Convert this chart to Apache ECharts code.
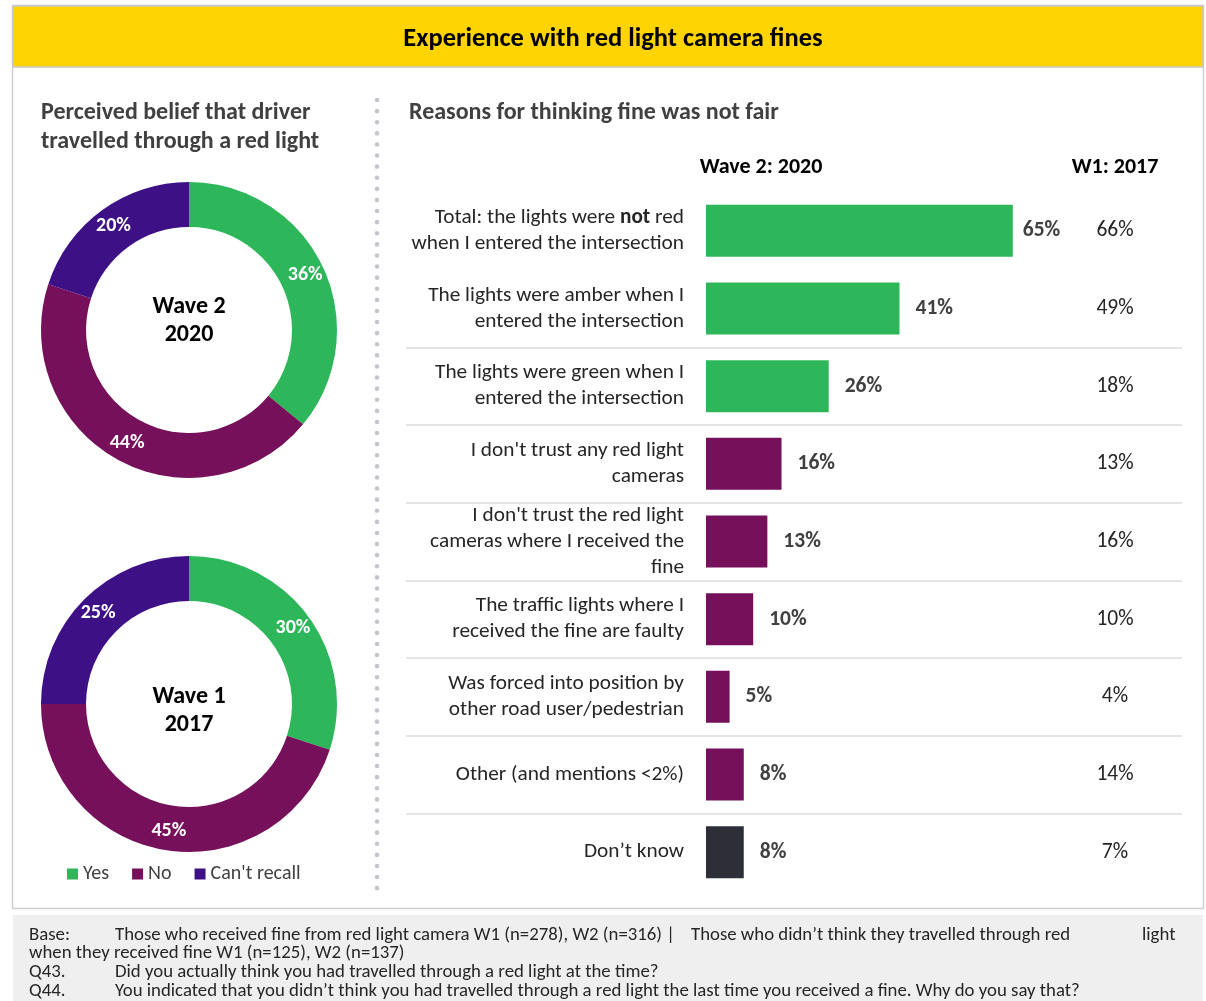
<!DOCTYPE html>
<html>
<head>
<meta charset="utf-8">
<script src="https://cdn.jsdelivr.net/npm/echarts@6/dist/echarts.min.js"></script>
<style>
  html, body { margin: 0; padding: 0; background: #ffffff; }
  #chart { width: 1206px; height: 1001px; }
</style>
</head>
<body>
<div id="chart"></div>
<script>
// Typeface stack: Calibri-metric first, then narrow fallbacks
const FONT = "Carlito, 'Liberation Sans Narrow', 'Open Sans', sans-serif";

// Donuts: did the driver think they went through a red light?
const responses = ['Yes', 'No', "Can't recall"];
const wave2Shares = [36, 44, 20];
const wave1Shares = [30, 45, 25];

// Bars: reasons for thinking the fine was not fair
const reasons = [
  'Total: the lights were **not** red\nwhen I entered the intersection',
  'The lights were amber when I\nentered the intersection',
  'The lights were green when I\nentered the intersection',
  "I don't trust any red light\ncameras",
  "I don't trust the red light\ncameras where I received the\nfine",
  'The traffic lights where I\nreceived the fine are faulty',
  'Was forced into position by\nother road user/pedestrian',
  'Other (and mentions <2%)',
  'Don\u2019t know'
];
const wave2Values = [65, 41, 26, 16, 13, 10, 5, 8, 8];
const wave1Values = [66, 49, 18, 13, 16, 10, 4, 14, 7];
const reasonGroups = ['lights', 'lights', 'lights', 'distrust', 'distrust', 'distrust', 'distrust', 'distrust', 'unsure'];

// Footnote: the first line is laid out in justified pieces, then [label, text] per line
const footerBase = ['Base:', 'Those who received fine from red light camera W1 (n=278), W2 (n=316) |', 'Those who didn\u2019t think they travelled through red', 'light'];
const footerLines = [
  ['', 'when they received fine W1 (n=125), W2 (n=137)'],
  ['Q43.', 'Did you actually think you had travelled through a red light at the time?'],
  ['Q44.', 'You indicated that you didn\u2019t think you had travelled through a red light the last time you received a fine. Why do you say that?']
];

const COLORS = {
  yes: '#2EB75A',
  no: '#76105B',
  recall: '#3D1086',
  lights: '#2EB75A',
  distrust: '#76105B',
  unsure: '#2E2E38'
};
const pieColors = [COLORS.yes, COLORS.no, COLORS.recall];

const chart = echarts.init(document.getElementById('chart'), null, { renderer: 'canvas' });

function donut(shares, center) {
  return {
    type: 'pie',
    center: center,
    radius: [103, 148],
    startAngle: 90,
    clockwise: true,
    avoidLabelOverlap: false,
    silent: true,
    label: {
      show: true,
      position: 'inside',
      formatter: '{c}%',
      color: '#ffffff',
      fontFamily: FONT,
      fontWeight: 'bold',
      fontSize: 20
    },
    labelLine: { show: false },
    itemStyle: { borderWidth: 0 },
    data: responses.map((name, i) => ({ name: name, value: shares[i], itemStyle: { color: pieColors[i] } }))
  };
}

const CAT_TOP = 192;
const CAT_HEIGHT = 699;
const BAND = CAT_HEIGHT / reasons.length;

// Footnote text elements
const FOOT_FONT = '18.8px ' + FONT;
const FOOT_Y0 = 935;
const FOOT_STEP = 18.7;
function footText(x, y, text) {
  return { type: 'text', x: x, y: y, z: 5, style: { text: text, font: FOOT_FONT, fill: '#262626', verticalAlign: 'middle' } };
}
const footerGraphics = [
  footText(29, FOOT_Y0, footerBase[0]),
  footText(115, FOOT_Y0, footerBase[1]),
  footText(691, FOOT_Y0, footerBase[2]),
  footText(1142, FOOT_Y0, footerBase[3])
];
footerLines.forEach((line, i) => {
  const y = FOOT_Y0 + (i + 1) * FOOT_STEP;
  if (line[0]) {
    footerGraphics.push(footText(29, y, line[0]));
    footerGraphics.push(footText(115, y, line[1]));
  } else {
    footerGraphics.push(footText(29, y, line[1]));
  }
});

const option = {
  backgroundColor: '#ffffff',
  animation: false,
  title: [
    { text: 'Experience with red light camera fines', left: 608, top: 21, textAlign: 'center',
      textStyle: { fontFamily: FONT, fontSize: 26.5, fontWeight: 'bold', color: '#000000' } },
    { text: 'Perceived belief that driver\ntravelled through a red light', left: 36, top: 93,
      textStyle: { fontFamily: FONT, fontSize: 24, fontWeight: 'bold', color: '#404040', lineHeight: 29 } },
    { text: 'Reasons for thinking fine was not fair', left: 404, top: 93,
      textStyle: { fontFamily: FONT, fontSize: 24, fontWeight: 'bold', color: '#404040', lineHeight: 29 } },
    { text: 'Wave 2: 2020', left: 756, top: 151, textAlign: 'center',
      textStyle: { fontFamily: FONT, fontSize: 22, fontWeight: 'bold', color: '#000000' } },
    { text: 'W1: 2017', left: 1110, top: 151, textAlign: 'center',
      textStyle: { fontFamily: FONT, fontSize: 22, fontWeight: 'bold', color: '#000000' } }
  ],
  legend: {
    data: responses,
    left: 67,
    top: 864,
    padding: 0,
    icon: 'rect',
    itemWidth: 11,
    itemHeight: 11,
    itemGap: 23,
    selectedMode: false,
    textStyle: { fontFamily: FONT, fontSize: 20, color: '#404040' }
  },
  graphic: [
    // outer panel frame
    { type: 'rect', shape: { x: 12.5, y: 5.5, width: 1191, height: 903 }, style: { fill: 'none', stroke: '#cfcfcf', lineWidth: 1.5 }, z: 0 },
    // header band
    { type: 'rect', shape: { x: 13, y: 6, width: 1190, height: 61 }, style: { fill: '#FFD400', stroke: '#c8c8c8', lineWidth: 1.5 }, z: 0 },
    // dotted divider between panels
    { type: 'line', shape: { x1: 377, y1: 100, x2: 377, y2: 893 }, style: { stroke: '#c4c4cc', lineWidth: 4.5, lineCap: 'round', lineDash: [0.1, 11] }, z: 0 },
    // footer band
    { type: 'rect', shape: { x: 13, y: 915, width: 1190, height: 86 }, style: { fill: '#efeff0' }, z: 0 },
    // donut centre captions
    { type: 'text', x: 189, y: 321, z: 5, style: { text: 'Wave 2\n2020', font: 'bold 24px ' + FONT, fill: '#000000', align: 'center', verticalAlign: 'middle', lineHeight: 28 } },
    { type: 'text', x: 189, y: 711, z: 5, style: { text: 'Wave 1\n2017', font: 'bold 24px ' + FONT, fill: '#000000', align: 'center', verticalAlign: 'middle', lineHeight: 28 } }
  ].concat(footerGraphics),
  grid: [
    { left: 706, width: 472, top: CAT_TOP, height: CAT_HEIGHT, containLabel: false },
    // rule lines between reason groups (the last row needs no rule beneath it)
    { left: 406, width: 776, top: CAT_TOP, height: BAND * (reasons.length - 1), containLabel: false }
  ],
  xAxis: [
    { gridIndex: 0, type: 'value', min: 0, max: 100, show: false },
    { gridIndex: 1, type: 'value', min: 0, max: 1, show: false }
  ],
  yAxis: [
    {
      gridIndex: 0, type: 'category', inverse: true, data: reasons,
      axisLine: { show: false }, axisTick: { show: false }, splitLine: { show: false },
      axisLabel: {
        margin: 22, align: 'right', fontFamily: FONT, fontSize: 21.3, color: '#262626', lineHeight: 26,
        formatter: v => v.replace(/\*\*(.+?)\*\*/g, '{b|$1}'),
        rich: { b: { fontFamily: FONT, fontSize: 21.3, fontWeight: 'bold', color: '#262626', lineHeight: 26 } }
      }
    },
    {
      gridIndex: 0, type: 'category', inverse: true, position: 'right',
      data: wave1Values.map(v => v + '%'),
      axisLine: { show: false }, axisTick: { show: false }, splitLine: { show: false },
      axisLabel: { inside: true, margin: 63, align: 'center', fontFamily: FONT, fontSize: 21.5, color: '#262626' }
    },
    {
      gridIndex: 1, type: 'category', inverse: true, data: reasons.slice(0, reasons.length - 1),
      axisLine: { show: false }, axisTick: { show: false }, axisLabel: { show: false },
      splitLine: {
        show: true,
        interval: idx => idx >= 2,
        lineStyle: { color: '#dcdcdc', width: 1.5 }
      }
    }
  ],
  series: [
    donut(wave2Shares, [189, 330]),
    donut(wave1Shares, [189, 704]),
    {
      type: 'bar', xAxisIndex: 0, yAxisIndex: 0, barWidth: 52, silent: true,
      data: wave2Values.map((v, i) => ({
        value: v,
        itemStyle: { color: COLORS[reasonGroups[i]] },
        label: { distance: i === 0 ? 10 : 16 }
      })),
      label: {
        show: true, position: 'right', formatter: '{c}%',
        fontFamily: FONT, fontSize: 21.5, fontWeight: 'bold', color: '#404040'
      }
    }
  ]
};

chart.setOption(option);
</script>
</body>
</html>
